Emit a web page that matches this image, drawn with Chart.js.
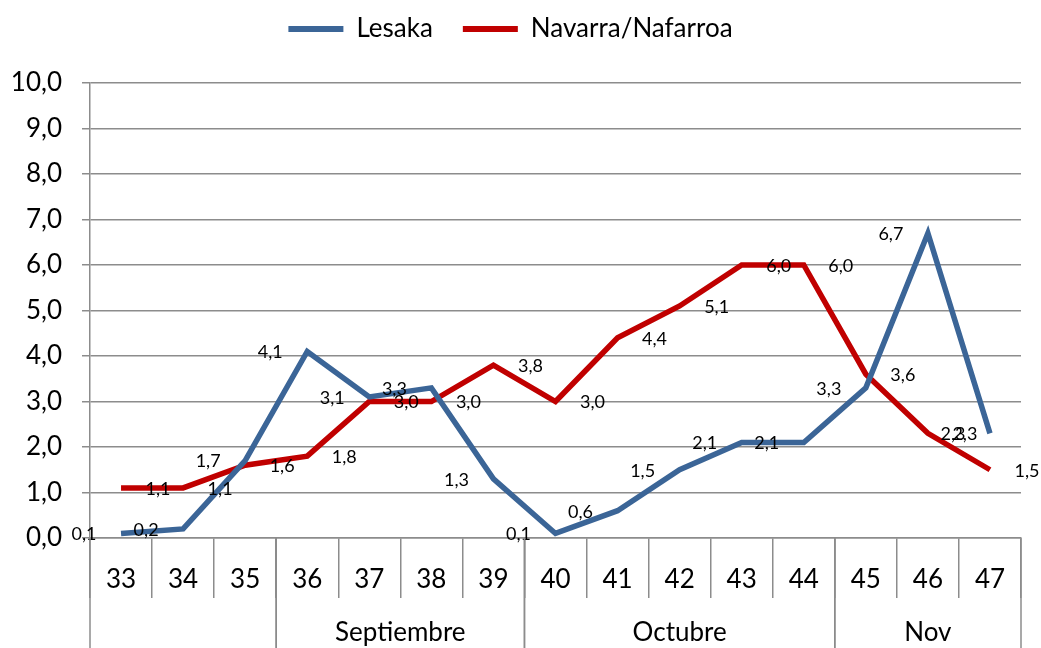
<!DOCTYPE html>
<html>
<head>
<meta charset="utf-8">
<script src="https://cdn.jsdelivr.net/npm/chart.js@4.4.1/dist/chart.umd.min.js"></script>
<style>
  html, body { margin: 0; padding: 0; background: #fff; }
  #wrap { width: 1041px; height: 648px; }
</style>
</head>
<body>
<div id="wrap"><canvas id="chart"></canvas></div>
<script>
const weeks = ['33', '34', '35', '36', '37', '38', '39', '40', '41', '42', '43', '44', '45', '46', '47'];
const lesaka = [0.1, 0.2, 1.7, 4.1, 3.1, 3.3, 1.3, 0.1, 0.6, 1.5, 2.1, 2.1, 3.3, 6.7, 2.3];
const navarra = [1.1, 1.1, 1.6, 1.8, 3.0, 3.0, 3.8, 3.0, 4.4, 5.1, 6.0, 6.0, 3.6, 2.3, 1.5];
const monthNames = ['', 'Septiembre', 'Octubre', 'Nov'];
const monthSpans = [3, 4, 5, 3];

const BLUE = '#3b6597';
const RED = '#c00000';
const GRID = '#8c8c8c';

Chart.defaults.font.family = 'Lato, "Open Sans", sans-serif';
Chart.defaults.color = '#000';

const fmt = v => v.toFixed(1).replace('.', ',');

// value labels: Lesaka to the left of its points, Navarra to the right
const pointLabels = {
    id: 'pointLabels',
    afterDatasetsDraw(chart) {
        const ctx = chart.ctx;
        ctx.save();
        ctx.font = '18px Lato';
        ctx.fillStyle = '#000';
        ctx.textAlign = 'center';
        ctx.textBaseline = 'middle';
        chart.data.datasets.forEach((ds, i) => {
            const dx = i === 0 ? -37 : 37;
            chart.getDatasetMeta(i).data.forEach((pt, j) => {
                ctx.fillText(fmt(ds.data[j]), pt.x + dx, pt.y + 1);
            });
        });
        ctx.restore();
    }
};

// second row of the category axis: month groups
const monthRow = {
    id: 'monthRow',
    afterDraw(chart) {
        const x = chart.scales.x;
        const ctx = chart.ctx;
        const top = chart.chartArea.bottom;
        const half = (x.getPixelForValue(1) - x.getPixelForValue(0)) / 2;
        ctx.save();
        ctx.strokeStyle = GRID;
        ctx.lineWidth = 1.5;
        ctx.fillStyle = '#000';
        ctx.font = '26px Lato';
        ctx.textAlign = 'center';
        ctx.textBaseline = 'middle';
        let start = 0;
        monthSpans.forEach((span, k) => {
            const left = x.getPixelForValue(start) - half;
            const right = x.getPixelForValue(start + span - 1) + half;
            [left, right].forEach(px => {
                ctx.beginPath();
                ctx.moveTo(px, top);
                ctx.lineTo(px, chart.height);
                ctx.stroke();
            });
            if (monthNames[k]) ctx.fillText(monthNames[k], (left + right) / 2, 633);
            start += span;
        });
        ctx.restore();
    }
};

// extra space under the legend
const legendGap = {
    id: 'legendGap',
    beforeInit(chart) {
        const fit = chart.legend.fit;
        chart.legend.fit = function () {
            fit.bind(chart.legend)();
            this.height += 31;
        };
    }
};

new Chart(document.getElementById('chart'), {
    type: 'line',
    data: {
        labels: weeks,
        datasets: [
            { label: 'Lesaka', data: lesaka, borderColor: BLUE, backgroundColor: BLUE, borderWidth: 5.5, pointRadius: 0, tension: 0 },
            { label: 'Navarra/Nafarroa', data: navarra, borderColor: RED, backgroundColor: RED, borderWidth: 5.5, pointRadius: 0, tension: 0 }
        ]
    },
    options: {
        responsive: true,
        maintainAspectRatio: false,
        animation: false,
        layout: { padding: { left: 0, right: 20, top: -14, bottom: 0 } },
        plugins: {
            legend: {
                position: 'top',
                labels: {
                    boxWidth: 55,
                    boxHeight: 6,
                    padding: 30,
                    font: { size: 26 },
                    color: '#000',
                    generateLabels(chart) {
                        return Chart.defaults.plugins.legend.labels.generateLabels(chart)
                            .map(l => Object.assign(l, { lineWidth: 0 }));
                    }
                }
            },
            tooltip: { enabled: false }
        },
        scales: {
            x: {
                offset: true,
                afterFit(scale) { scale.height = 110; },
                grid: { offset: true, drawOnChartArea: false, drawTicks: true, tickLength: 60, color: GRID, lineWidth: 1.5 },
                border: { color: GRID, width: 1.5 },
                ticks: { font: { size: 26 }, color: '#000', padding: -34, maxRotation: 0 }
            },
            y: {
                min: 0,
                max: 10,
                afterFit(scale) { scale.width = 90; },
                grid: { color: GRID, lineWidth: 1.5, tickLength: 8 },
                border: { color: GRID, width: 1.5 },
                ticks: { stepSize: 1, font: { size: 26 }, color: '#000', padding: 20, callback: v => fmt(v) }
            }
        }
    },
    plugins: [legendGap, pointLabels, monthRow]
});
</script>
</body>
</html>
